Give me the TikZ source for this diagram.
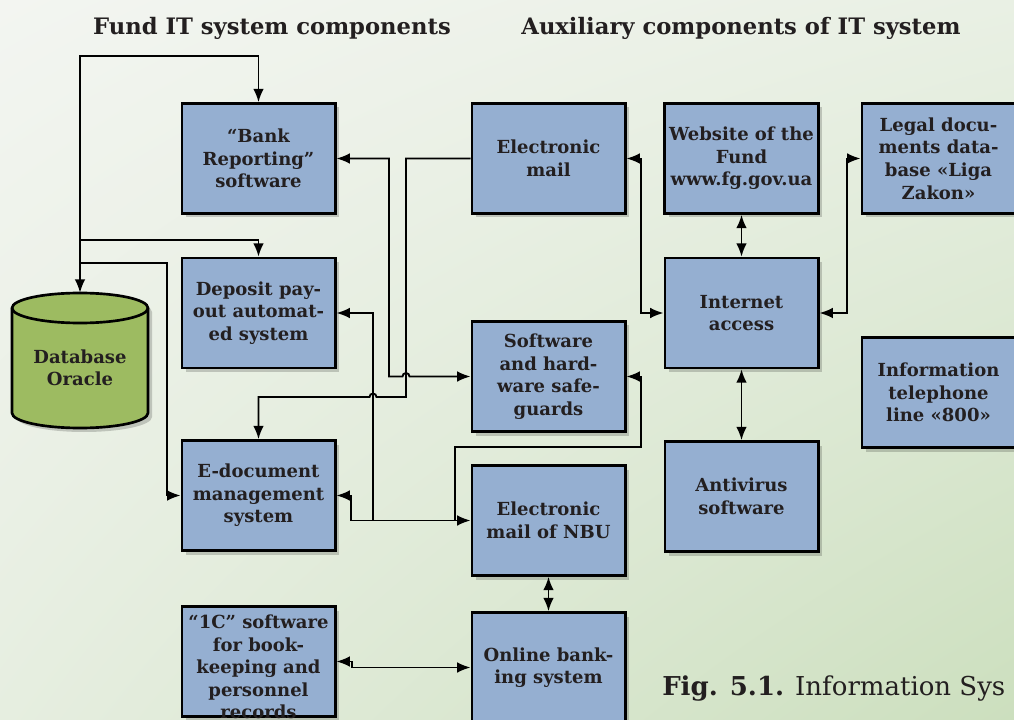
\documentclass[tikz,border=0pt]{standalone}
\usepackage{fontspec}
\setmainfont{DejaVu Serif}
\usepackage{xcolor}
\usepackage{tikz}
\usetikzlibrary{arrows.meta, positioning, calc, shadows, shadings}
\definecolor{boxblue}{HTML}{95AFD1}
\definecolor{oraclegreen}{HTML}{9DBB61}
\definecolor{inkgray}{HTML}{231F20}
\definecolor{paleA}{HTML}{F3F5F1}
\definecolor{paleB}{HTML}{E9F0E4}
\definecolor{paleC}{HTML}{E6EEE0}
\definecolor{paleD}{HTML}{CCDFBE}
\newcommand{\boxfont}{\bfseries\fontsize{13.5}{16.9}\selectfont}
\newcommand{\headfont}{\bfseries\fontsize{17}{19}\selectfont}
\newcommand{\capfont}{\fontsize{19.5}{22}\selectfont}

\begin{document}
\begin{tikzpicture}[x=0.75pt, y=-0.75pt, >={Latex[length=10pt,width=8pt]},
    box/.style={draw, line width=2pt, fill=boxblue, minimum width=115pt, minimum height=82.5pt,
        align=center, text=inkgray, font=\boxfont,
        drop shadow={shadow xshift=3pt, shadow yshift=-3pt, opacity=0.18, fill=black}},
    boxtext/.style={align=center, text=inkgray, font=\boxfont},
    conn/.style={line width=1.4pt}]
    % Page and background
    \path[use as bounding box] (0,0) rectangle (1014,720);
    \clip (0,0) rectangle (1014,720);
    \shade[upper left=paleA, upper right=paleB, lower left=paleC, lower right=paleD] (0,0) rectangle (1014,720);
    % Headings
    \node[font=\headfont, text=inkgray] (fundhead) at (272,28) {Fund IT system components};
    \node[font=\headfont, text=inkgray] (auxhead) at (741,28) {Auxiliary components of IT system};
    % Fund components
    \node[box] (bank) at (258.5,158.5) {“Bank\\Reporting”\\software};
    \node[box] (deposit) at (258.5,313) {Deposit pay-\\out automat-\\ed system};
    \node[box] (edoc) at (258.5,495.5) {E-document\\management\\system};
    \node[box] (onec) at (258.5,661.5) {};
    \node[boxtext] (onectext) at (258.5,667) {“1C” software\\for book-\\keeping and\\personnel\\records};
    \node[box] (email) at (548.5,158.5) {Electronic\\mail};
    \node[box] (safe) at (548.5,376.5) {Software\\and hard-\\ware safe-\\guards};
    \node[box] (nbu) at (548.5,520.5) {Electronic\\mail of NBU};
    \node[box] (online) at (548.5,667.5) {Online bank-\\ing system};
    % Auxiliary components
    \node[box] (web) at (741.5,158.5) {Website of the\\Fund\\www.fg.gov.ua};
    \node[box] (inet) at (741.5,313) {Internet\\access};
    \node[box] (anti) at (741.5,496.5) {Antivirus\\software};
    \node[box] (legal) at (938.5,158.5) {Legal docu-\\ments data-\\base «Liga\\Zakon»};
    \node[box] (phone) at (938.5,392.5) {Information\\telephone\\line «800»};
    % Database
    \node[minimum width=102pt, minimum height=101.25pt, inner sep=0pt] (db) at (80,360.5) {};
    \path[draw, line width=2pt, fill=oraclegreen, drop shadow={shadow xshift=3pt, shadow yshift=-3pt, opacity=0.18, fill=black}]
        (12,308) -- (12,413) arc[start angle=180, end angle=360, x radius=51pt, y radius=11.25pt]
        -- (148,308) arc[start angle=0, end angle=180, x radius=51pt, y radius=11.25pt] -- cycle;
    \draw[line width=2pt] (12,308) arc[start angle=180, end angle=360, x radius=51pt, y radius=11.25pt];
    \node[boxtext] (dbtext) at (80,368) {Database\\Oracle};
    % Database links
    \draw[conn, <->] (db.north) |- (258.5,56) -- (bank.north);
    \coordinate (tapA) at (80,240);
    \coordinate (tapB) at (80,263);
    \draw[conn, ->] (tapA) -| (deposit.north);
    \draw[conn, ->] (tapB) -- (167,263) |- (edoc.west);
    % Middle links
    \draw[conn, <->] (bank.east) -| (389,376.5) -- (402.5,376.5)
        arc[start angle=180, end angle=0, radius=2.625pt] -- (safe.west);
    \draw[conn, ->] (email.west) -| (406,397) -- (376.5,397)
        arc[start angle=0, end angle=180, radius=2.625pt] -- (258.5,397) -- (edoc.north);
    \draw[conn, <->] (edoc.east) -- (351,495.5) |- (nbu.west);
    \coordinate (tapC) at (373,520.5);
    \coordinate (tapD) at (455,520.5);
    \draw[conn, ->] (tapC) |- (deposit.east);
    \draw[conn, ->] (tapD) |- (641,447) |- (safe.east);
    \draw[conn, <->] (nbu.south) -- (online.north);
    \draw[conn, <->] (onec.east) -- (352,661.5) |- (online.west);
    % Auxiliary links
    \draw[conn, <->] (email.east) -- (641,158.5) |- (inet.west);
    \draw[conn, <->] (web.south) -- (inet.north);
    \draw[conn, <->] (inet.south) -- (anti.north);
    \draw[conn, <->] (inet.east) -- (847,313) |- (legal.west);
    % Caption
    \node[anchor=base west, font=\capfont, text=inkgray, inner sep=0pt] (caption) at (662,695) {\textbf{Fig. 5.1.} Information Sys};
\end{tikzpicture}
\end{document}
